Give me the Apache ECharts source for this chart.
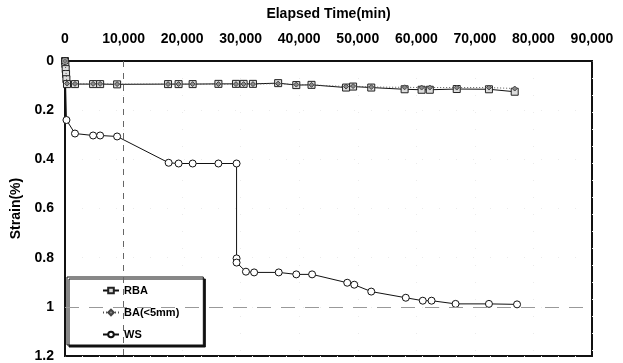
<!DOCTYPE html>
<html>
<head>
<meta charset="utf-8">
<style>
  html, body { margin: 0; padding: 0; background: #fff; }
  #chart { width: 623px; height: 363px; }
</style>
<script src="https://cdn.jsdelivr.net/npm/echarts@6/dist/echarts.min.js"></script>
</head>
<body>
<div id="chart"></div>
<script>
// Elapsed time (min) and strain (%) for each material
const rbaTime = [0, 60, 120, 180, 240, 340, 1700, 4800, 6000, 8900, 17600, 19400, 21800, 26200, 29200, 30500, 32100, 36400, 39500, 42100, 48000, 49200, 52300, 58000, 60900, 62300, 66900, 72400, 76800];
const rbaStrain = [0, 0.012, 0.033, 0.053, 0.074, 0.094, 0.094, 0.094, 0.094, 0.095, 0.094, 0.094, 0.094, 0.093, 0.093, 0.093, 0.093, 0.09, 0.098, 0.097, 0.108, 0.104, 0.108, 0.115, 0.117, 0.117, 0.114, 0.115, 0.125];

const baTime = [0, 340, 1700, 4800, 6000, 8900, 17600, 19400, 21800, 26200, 29200, 30500, 32100, 36400, 39500, 42100, 48000, 49200, 52300, 58000, 60900, 62300, 66900, 72400, 76800];
const baStrain = [0, 0.092, 0.093, 0.093, 0.093, 0.094, 0.094, 0.094, 0.094, 0.094, 0.094, 0.094, 0.094, 0.092, 0.096, 0.097, 0.104, 0.102, 0.106, 0.107, 0.108, 0.108, 0.108, 0.108, 0.112];

const wsTime = [0, 250, 1700, 4800, 6000, 8900, 17700, 19400, 21800, 26200, 29300, 29300, 29300, 30900, 32300, 36500, 39500, 42200, 48200, 49400, 52300, 58200, 61100, 62600, 66700, 72400, 77200];
const wsStrain = [0, 0.24, 0.295, 0.303, 0.303, 0.307, 0.414, 0.417, 0.417, 0.417, 0.417, 0.803, 0.82, 0.857, 0.86, 0.86, 0.868, 0.868, 0.902, 0.91, 0.938, 0.963, 0.975, 0.975, 0.988, 0.988, 0.99];

const seriesNames = ['RBA', 'BA(<5mm)', 'WS'];
const xTicks = { min: 0, max: 90000, interval: 10000 };
const yTicks = { min: 0, max: 1.2, interval: 0.2 };

function pairs(xs, ys) { return xs.map((x, i) => [x, ys[i]]); }

const FONT = 'Liberation Sans, Arial, sans-serif';
const chart = echarts.init(document.getElementById('chart'), null, { renderer: 'canvas' });

chart.setOption({
  animation: false,
  backgroundColor: '#fff',
  grid: {
    left: 65, right: 31, top: 61, bottom: 6,
    show: true, borderColor: '#111', borderWidth: 2, backgroundColor: '#fff'
  },
  xAxis: {
    type: 'value', position: 'top',
    min: xTicks.min, max: xTicks.max, interval: xTicks.interval,
    name: 'Elapsed Time(min)', nameLocation: 'middle', nameGap: 40,
    nameTextStyle: { fontFamily: FONT, fontWeight: 'bold', fontSize: 14, color: '#000' },
    axisLine: { show: true, lineStyle: { color: '#111', width: 2 } },
    axisTick: { show: false },
    axisLabel: {
      margin: 15, fontFamily: FONT, fontWeight: 'bold', fontSize: 14, color: '#000',
      formatter: v => v.toLocaleString('en-US')
    },
    splitLine: { show: true, lineStyle: { color: '#ebebeb', type: [1, 16], width: 1 } }
  },
  yAxis: {
    type: 'value', inverse: true,
    min: yTicks.min, max: yTicks.max, interval: yTicks.interval,
    name: 'Strain(%)', nameLocation: 'middle', nameGap: 38,
    nameTextStyle: { fontFamily: FONT, fontWeight: 'bold', fontSize: 14, color: '#000' },
    axisLine: { show: true, lineStyle: { color: '#111', width: 2 } },
    axisTick: { show: false },
    axisLabel: { margin: 11, fontFamily: FONT, fontWeight: 'bold', fontSize: 14, color: '#000' },
    splitLine: { show: true, lineStyle: { color: '#ebebeb', type: [1, 16], width: 1 } }
  },
  legend: {
    data: seriesNames,
    orient: 'vertical',
    left: 67, top: 277,
    padding: [8, 24, 5, 35],
    itemWidth: 16, itemHeight: 7, itemGap: 11,
    backgroundColor: '#fff',
    borderColor: '#111', borderWidth: 1,
    shadowColor: '#111', shadowOffsetX: 2, shadowOffsetY: 2, shadowBlur: 0,
    textStyle: { fontFamily: FONT, fontWeight: 'bold', fontSize: 11, color: '#000' }
  },
  series: [
    {
      name: seriesNames[0], type: 'line', data: pairs(rbaTime, rbaStrain),
      symbol: 'rect', symbolSize: 7, showAllSymbol: true,
      lineStyle: { color: '#111', width: 1 },
      itemStyle: { color: '#ddd', borderColor: '#222', borderWidth: 1 },
      z: 3,
      markLine: {
        silent: true, symbol: 'none', label: { show: false },
        data: [
          { xAxis: 10000, lineStyle: { color: '#666', type: [6, 6], width: 1 } },
          { yAxis: 1, lineStyle: { color: '#999', type: [14, 10], width: 1.2 } }
        ]
      }
    },
    {
      name: seriesNames[1], type: 'line', data: pairs(baTime, baStrain),
      symbol: 'diamond', symbolSize: 5, showAllSymbol: true,
      lineStyle: { color: '#555', width: 1, type: [1, 2] },
      itemStyle: { color: '#888', borderColor: '#444', borderWidth: 1 },
      z: 4
    },
    {
      name: seriesNames[2], type: 'line', data: pairs(wsTime, wsStrain),
      symbol: 'circle', symbolSize: 7, showAllSymbol: true,
      lineStyle: { color: '#111', width: 1 },
      itemStyle: { color: '#fff', borderColor: '#111', borderWidth: 1 },
      z: 3
    }
  ]
});
</script>
</body>
</html>
